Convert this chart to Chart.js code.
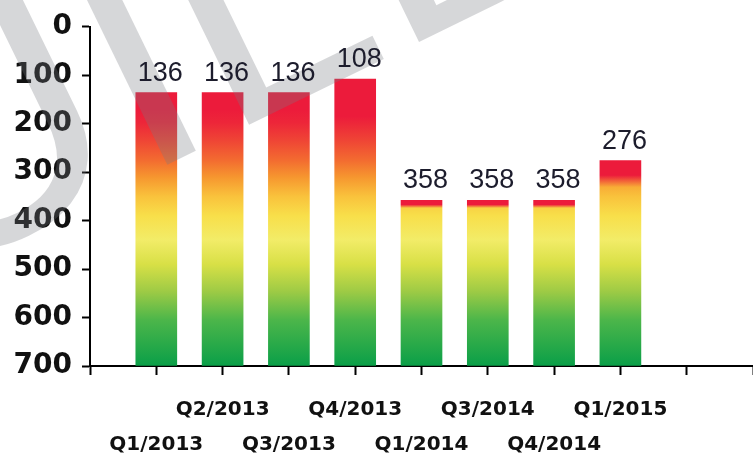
<!DOCTYPE html>
<html>
<head>
<meta charset="utf-8">
<script src="https://cdn.jsdelivr.net/npm/chart.js@4.4.1/dist/chart.umd.min.js"></script>
<style>
  html, body { margin: 0; padding: 0; background: #fff; }
  #wrap { width: 753px; height: 456px; }
</style>
</head>
<body>
<div id="wrap"><canvas id="quarterChart"></canvas></div>
<script>
const quarters = ['Q1/2013', 'Q2/2013', 'Q3/2013', 'Q4/2013', 'Q1/2014', 'Q3/2014', 'Q4/2014', 'Q1/2015'];
const values = [136, 136, 136, 108, 358, 358, 358, 276];
const yMin = 0;
const yMax = 700;
const yStep = 100;

// empty slot at the y axis and two spare slots on the right, as in the original
const labels = ['', ...quarters, '', ''];
const barData = [null, ...values, null, null];

// colour ramp down the value axis: red on top, green at the bottom
const rampAt = [0, 185, 235, 276, 310, 350, 390, 440, 490, 545, 605, 700];
const rampColor = ['#ec1b3b', '#ec1b3b', '#ef4535', '#f36c30', '#f6962f', '#f9c23c', '#f8df4a', '#f2ec68', '#d8e046', '#9fcb45', '#4cb64a', '#0a9f48'];

function hexToRgb(h) {
  const n = parseInt(h.slice(1), 16);
  return [n >> 16, (n >> 8) & 255, n & 255];
}

function rampColorAt(v) {
  if (v <= rampAt[0]) return rampColor[0];
  for (let i = 1; i < rampAt.length; i++) {
    if (v <= rampAt[i]) {
      const t = (v - rampAt[i - 1]) / (rampAt[i] - rampAt[i - 1]);
      const a = hexToRgb(rampColor[i - 1]);
      const b = hexToRgb(rampColor[i]);
      return 'rgb(' + a.map((c, k) => Math.round(c + (b[k] - c) * t)).join(',') + ')';
    }
  }
  return rampColor[rampColor.length - 1];
}

// each bar follows the axis ramp, with a short red cap squeezed on top
function barFill(context) {
  const chart = context.chart;
  const { chartArea, scales } = chart;
  if (!chartArea || context.raw == null) return rampColor[0];
  const y = scales.y;
  const top = y.getPixelForValue(context.raw);
  const bottom = y.getPixelForValue(yMax);
  const h = bottom - top;
  if (h <= 0) return rampColor[0];
  const g = chart.ctx.createLinearGradient(0, top, 0, bottom);
  const cap = Math.max(6, Math.min(30, 0.475 * h - 71));
  g.addColorStop(0, rampColor[0]);
  g.addColorStop(0.55 * cap / h, rampColor[0]);
  g.addColorStop(cap / h, rampColorAt(y.getValueForPixel(top + cap)));
  rampAt.forEach((v, i) => {
    const p = y.getPixelForValue(v);
    if (p > top + cap) g.addColorStop(Math.min(1, (p - top) / h), rampColor[i]);
  });
  return g;
}

// faint tilted "BUILD" stamp lying over the plot
const watermark = {
  id: 'watermark',
  afterDatasetsDraw(chart) {
    const ctx = chart.ctx;
    ctx.save();
    ctx.translate(224, 137);
    ctx.rotate(-26 * Math.PI / 180);
    ctx.font = '340px "Liberation Sans"';
    ctx.fillStyle = 'rgba(120, 124, 130, 0.3)';
    ctx.textBaseline = 'alphabetic';
    ctx.fillText('BUILD', -ctx.measureText('BUI').width, 0);
    ctx.restore();
  }
};

const valueLabels = {
  id: 'valueLabels',
  afterDatasetsDraw(chart) {
    const ctx = chart.ctx;
    ctx.save();
    ctx.font = '27px "Liberation Sans"';
    ctx.fillStyle = '#1c1c2c';
    ctx.textAlign = 'center';
    ctx.textBaseline = 'alphabetic';
    chart.getDatasetMeta(0).data.forEach((bar, i) => {
      const v = barData[i];
      if (v == null) return;
      ctx.fillText(String(v), bar.x + 4, bar.y - 12);
    });
    ctx.restore();
  }
};

const ctx = document.getElementById('quarterChart').getContext('2d');

const quarterChart = new Chart(ctx, {
  type: 'bar',
  data: {
    labels: labels,
    datasets: [{
      data: barData,
      base: yMax,
      backgroundColor: barFill,
      borderWidth: 0,
      barThickness: 41
    }]
  },
  options: {
    responsive: true,
    maintainAspectRatio: false,
    animation: false,
    layout: { padding: { top: 26, right: 0, bottom: 0, left: 0 } },
    plugins: {
      legend: { display: false },
      tooltip: { enabled: false }
    },
    scales: {
      x: {
        offset: false,
        grid: {
          offset: false,
          drawOnChartArea: false,
          tickLength: 9,
          tickWidth: 2,
          tickColor: '#000'
        },
        border: { display: true, color: '#000', width: 2 },
        ticks: {
          autoSkip: false,
          maxRotation: 0,
          minRotation: 0,
          padding: 17,
          color: '#111',
          font: { family: 'DejaVu Sans', size: 20, weight: 'bold', lineHeight: 1.75 },
          callback(value, index) {
            const q = labels[index];
            if (!q) return '';
            return (index - 1) % 2 === 0 ? ['', q] : q;
          }
        },
        afterFit(scale) {
          scale.height = 90;
          scale.paddingLeft = 0;
          scale.paddingRight = 0;
        }
      },
      y: {
        reverse: true,
        min: yMin,
        max: yMax,
        grid: {
          drawOnChartArea: false,
          tickLength: 8,
          tickWidth: 2,
          tickColor: '#000'
        },
        border: { display: true, color: '#000', width: 2 },
        ticks: {
          stepSize: yStep,
          padding: 10,
          color: '#111',
          font: { family: 'DejaVu Sans', size: 28, weight: 'bold' }
        },
        afterFit(scale) { scale.width = 90; }
      }
    }
  },
  plugins: [watermark, valueLabels]
});
</script>
</body>
</html>
